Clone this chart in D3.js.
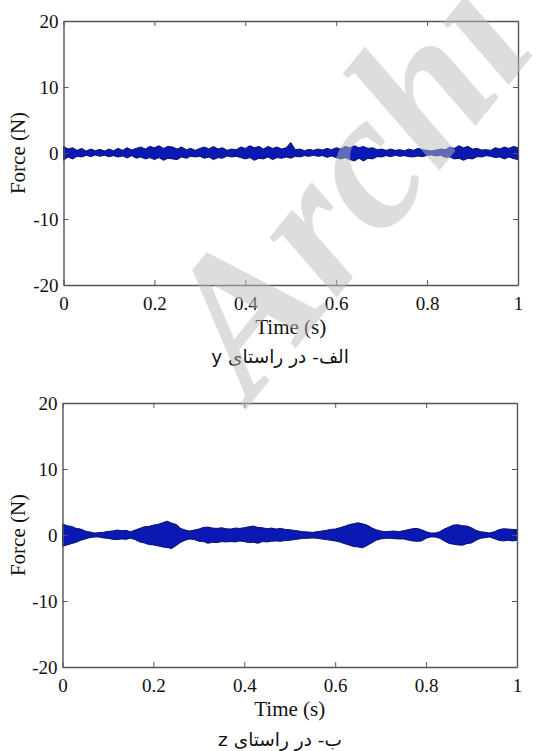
<!DOCTYPE html>
<html>
<head>
<meta charset="utf-8">
<script src="https://cdn.jsdelivr.net/npm/d3@7"></script>
<style>
  html, body { margin: 0; padding: 0; background: #fff; }
  svg { display: block; }
</style>
</head>
<body>
<svg id="fig" width="538" height="751"></svg>
<script>
// Time samples (s), one every 10 ms
const time = d3.range(0, 101).map(i => i / 100);

// Force envelope in the y direction (N): upper and lower edge of the band
const forceYUpper = [
  1.0, 0.6, 0.8, 0.4, 0.7, 0.3, 0.6, 0.35, 0.55, 0.3,
  0.6, 0.35, 0.7, 0.4, 0.8, 0.45, 0.7, 0.9, 0.6, 1.0,
  0.8, 1.1, 0.7, 1.0, 0.9, 0.6, 0.9, 0.5, 0.7, 0.4,
  0.7, 0.9, 0.6, 1.0, 0.6, 0.8, 0.4, 0.6, 0.5, 0.9,
  0.7, 1.1, 0.8, 1.0, 0.6, 1.0, 0.7, 0.9, 0.6, 0.8,
  1.6, 0.5, 0.6, 0.35, 0.55, 0.4, 0.6, 0.45, 0.7, 0.5,
  0.8, 0.6, 1.0, 0.8, 1.1, 0.8, 1.0, 0.7, 0.8, 0.5,
  0.6, 0.4, 0.6, 0.4, 0.5, 0.35, 0.6, 0.4, 0.7, 0.5,
  0.4, 0.3, 0.45, 0.6, 0.5, 0.9, 0.7, 1.1, 0.8, 1.0,
  0.6, 0.7, 0.45, 0.5, 0.4, 0.8, 0.6, 0.9, 0.7, 1.0,
  0.8
];
const forceYLower = [
  -1.1, -0.6, -0.9, -0.5, -0.6, -0.35, -0.55, -0.3, -0.5, -0.35,
  -0.55, -0.4, -0.6, -0.45, -0.75, -0.4, -0.8, -0.6, -0.9, -0.7,
  -1.0, -0.7, -1.1, -0.8, -0.9, -1.0, -0.6, -0.8, -0.5, -0.6,
  -0.5, -0.8, -0.6, -1.0, -0.7, -0.8, -0.45, -0.6, -0.5, -0.7,
  -0.9, -0.7, -1.1, -0.8, -0.9, -0.6, -1.0, -0.7, -0.8, -0.6,
  -0.8, -0.5, -0.6, -0.4, -0.5, -0.35, -0.5, -0.4, -0.65, -0.45,
  -0.7, -0.9, -0.7, -1.0, -1.2, -0.8, -1.2, -0.8, -0.9, -0.55,
  -0.6, -0.4, -0.55, -0.35, -0.5, -0.4, -0.55, -0.6, -0.45, -0.55,
  -0.35, -0.3, -0.45, -0.35, -0.65, -0.6, -0.9, -0.8, -1.1, -0.8,
  -0.9, -0.55, -0.6, -0.4, -0.5, -0.7, -0.6, -0.9, -0.6, -0.85,
  -1.0
];

// Force envelope in the z direction (N)
const forceZUpper = [
  1.7, 1.4, 1.3, 1.0, 0.9, 0.6, 0.45, 0.3, 0.35, 0.4,
  0.55, 0.6, 0.75, 0.65, 0.7, 0.5, 0.75, 1.0, 1.25, 1.3,
  1.5, 1.6, 1.85, 2.1, 1.8, 1.6, 1.0, 0.75, 0.6, 0.75,
  0.9, 1.15, 1.2, 1.05, 1.0, 1.1, 0.95, 0.9, 1.05, 1.0,
  1.1, 1.25, 1.35, 1.15, 1.1, 0.95, 1.05, 0.9, 1.0, 0.85,
  0.8, 0.7, 0.6, 0.5, 0.45, 0.4, 0.5, 0.6, 0.7, 0.85,
  0.9, 1.1, 1.3, 1.55, 1.7, 1.85, 1.7, 1.5, 1.1, 0.8,
  0.6, 0.5, 0.55, 0.6, 0.5, 0.65, 0.8, 0.95, 1.0, 0.8,
  0.5, 0.3, 0.3, 0.5, 0.9, 1.2, 1.5, 1.55, 1.4, 1.35,
  1.1, 0.7, 0.5, 0.4, 0.3, 0.5, 0.8, 0.95, 0.9, 0.85,
  0.8
];
const forceZLower = [
  -1.7, -1.5, -1.3, -1.1, -0.8, -0.6, -0.4, -0.3, -0.3, -0.45,
  -0.5, -0.65, -0.7, -0.6, -0.65, -0.5, -0.7, -1.05, -1.2, -1.45,
  -1.5, -1.65, -1.8, -1.9, -2.05, -1.6, -1.1, -0.8, -0.6, -0.7,
  -0.95, -1.0, -1.25, -1.1, -1.15, -1.0, -1.05, -1.0, -1.05, -0.9,
  -1.0, -1.15, -1.1, -1.25, -1.0, -1.05, -0.95, -0.9, -0.95, -0.85,
  -0.8, -0.7, -0.6, -0.5, -0.5, -0.45, -0.5, -0.6, -0.7, -0.8,
  -0.9, -1.05, -1.3, -1.5, -1.75, -1.8, -1.95, -1.6, -1.2, -0.8,
  -0.6, -0.5, -0.5, -0.55, -0.6, -0.6, -0.75, -0.9, -0.95, -0.9,
  -0.5, -0.3, -0.3, -0.5, -0.9, -1.25, -1.4, -1.5, -1.55, -1.3,
  -1.2, -0.8, -0.5, -0.4, -0.3, -0.55, -0.8, -0.9, -0.8, -0.9,
  -0.8
];

// Axis ticks
const xTicks = [0, 0.2, 0.4, 0.6, 0.8, 1];
const xTickLabels = ["0", "0.2", "0.4", "0.6", "0.8", "1"];
const yTicks = [-20, -10, 0, 10, 20];
const yTickLabels = ["-20", "-10", "0", "10", "20"];

const xTitle = "Time (s)";
const yTitle = "Force (N)";
const captions = ["الف- در راستای y", "ب- در راستای z"];

const svg = d3.select("#fig");
const serif = "'Liberation Serif', 'Times New Roman', serif";

function panel(opts) {
  const { left, right, top, bottom, upper, lower, caption, captionY } = opts;
  const x = d3.scaleLinear().domain([0, 1]).range([left, right]);
  const y = d3.scaleLinear().domain([-20, 20]).range([bottom, top]);
  const g = svg.append("g");

  // signal band
  const band = time.map((t, i) => ({ t, hi: upper[i], lo: lower[i] }));
  const area = d3.area()
    .x(d => x(d.t))
    .y0(d => y(d.lo))
    .y1(d => y(d.hi))
    .curve(d3.curveLinear);
  g.append("path")
    .datum(band)
    .attr("d", area)
    .attr("fill", "#0a18b4")
    .attr("stroke", "#071266")
    .attr("stroke-width", 1)
    .attr("stroke-linejoin", "miter");

  const tickStyle = sel => {
    sel.select(".domain").attr("stroke", "#555").attr("stroke-width", 1.4);
    sel.selectAll(".tick line").attr("stroke", "#555").attr("stroke-width", 1);
    sel.selectAll(".tick text")
      .attr("fill", "#111")
      .style("font-family", serif)
      .style("font-size", "19px");
  };

  g.append("g")
    .attr("transform", `translate(0,${bottom})`)
    .call(d3.axisBottom(x).tickValues(xTicks)
      .tickFormat((d, i) => xTickLabels[i])
      .tickSize(-5).tickSizeOuter(0).tickPadding(11.5))
    .call(tickStyle);
  g.append("g")
    .attr("transform", `translate(0,${top})`)
    .call(d3.axisTop(x).tickValues(xTicks).tickFormat("")
      .tickSize(-5).tickSizeOuter(0))
    .call(tickStyle);
  g.append("g")
    .attr("transform", `translate(${left},0)`)
    .call(d3.axisLeft(y).tickValues(yTicks)
      .tickFormat((d, i) => yTickLabels[i])
      .tickSize(-5).tickSizeOuter(0).tickPadding(5))
    .call(tickStyle);
  g.append("g")
    .attr("transform", `translate(${right},0)`)
    .call(d3.axisRight(y).tickValues(yTicks).tickFormat("")
      .tickSize(-5).tickSizeOuter(0))
    .call(tickStyle);

  // axis titles
  g.append("text")
    .attr("x", (left + right) / 2)
    .attr("y", bottom + 49)
    .attr("text-anchor", "middle")
    .attr("fill", "#111")
    .style("font-family", serif)
    .style("font-size", "21px")
    .text(xTitle);
  g.append("text")
    .attr("transform", `translate(25,${(top + bottom) / 2}) rotate(-90)`)
    .attr("text-anchor", "middle")
    .attr("fill", "#111")
    .style("font-family", serif)
    .style("font-size", "21px")
    .text(yTitle);

  // caption below the panel
  g.append("text")
    .attr("x", 280)
    .attr("y", captionY)
    .attr("text-anchor", "middle")
    .attr("direction", "rtl")
    .style("unicode-bidi", "embed")
    .attr("fill", "#111")
    .style("font-family", "'DejaVu Sans', 'Noto Sans', sans-serif")
    .style("font-size", "18.5px")
    .text(caption);
}

panel({ left: 63.5, right: 518, top: 21, bottom: 285,
        upper: forceYUpper, lower: forceYLower,
        caption: captions[0], captionY: 363 });
panel({ left: 62.5, right: 517, top: 403, bottom: 667,
        upper: forceZUpper, lower: forceZLower,
        caption: captions[1], captionY: 746 });

// archive stamp across the figure
svg.append("text")
  .attr("transform", "translate(252,402) rotate(-51)")
  .attr("fill", "#bcbcbc")
  .attr("fill-opacity", 0.5)
  .style("font-family", serif)
  .style("font-weight", "bold")
  .style("font-style", "italic")
  .style("font-size", "196px")
  .text("Archi");
</script>
</body>
</html>
